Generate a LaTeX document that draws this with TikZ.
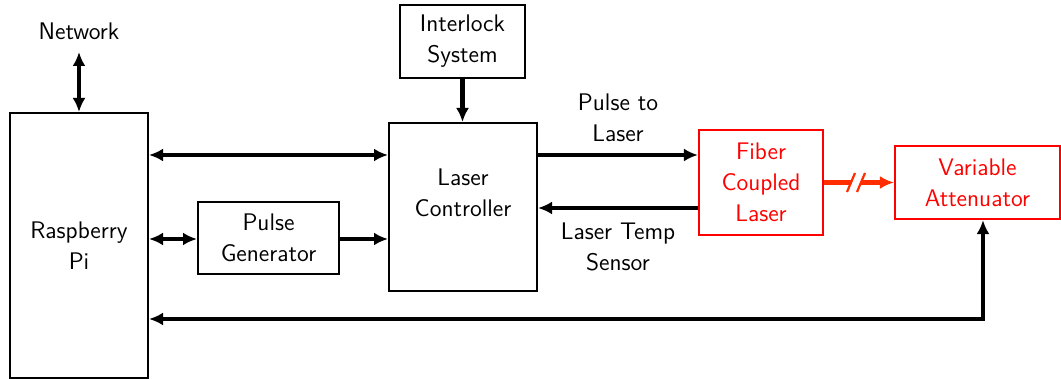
\documentclass[tikz,border=0pt]{standalone}
\usetikzlibrary{arrows.meta,calc}
\definecolor{redline}{RGB}{255,45,0}
\begin{document}
\begin{tikzpicture}[x=0.5pt,y=-0.5pt,
  font=\sffamily\fontsize{12}{15.5}\selectfont,
  box/.style={draw=black,line width=1pt,align=center,inner sep=0pt},
  rbox/.style={draw=red,line width=1.1pt,text=red,align=center,inner sep=0pt},
  lbl/.style={align=center,inner sep=0pt},
  arr/.style={line width=2.2pt,{Latex[length=7pt,width=6.5pt]}-{Latex[length=7pt,width=6.5pt]}},
  arrr/.style={line width=2.2pt,-{Latex[length=7pt,width=6.5pt]}},
]
\useasboundingbox (0,0) rectangle (1061,379);
\fill[white] (0,0) rectangle (1061,379);

\node[box,minimum width=69pt,minimum height=132.5pt] (pi) at (79,245.5) {Raspberry\\Pi};
\node[box,minimum width=70.5pt,minimum height=36pt] (pg) at (268.5,238) {Pulse\\Generator};
\node[box,minimum width=74pt,minimum height=84pt] (ctrl) at (463,207) {};
\node[lbl] (ctrltxt) at (463,192.5) {Laser\\Controller};
\node[box,minimum width=62.5pt,minimum height=36.5pt] (inter) at (462.5,41.5) {Interlock\\System};
\node[rbox,minimum width=62pt,minimum height=52.5pt] (fiber) at (761,182.5) {Fiber\\Coupled\\Laser};
\node[rbox,minimum width=82.5pt,minimum height=36.5pt] (att) at (977.5,182.5) {Variable\\Attenuator};
\node[lbl] (net) at (79,31) {Network};
\node[lbl] (pl) at (618,117.5) {Pulse to\\Laser};
\node[lbl] (lt) at (618,246.5) {Laser Temp\\Sensor};

% connectors
\coordinate (nettop) at (79,52);
\draw[arr] (nettop) -- (pi.north);
\draw[arr] (pi.east |- 0,155) -- (ctrl.west |- 0,155);
\draw[arr] (pi.east |- 0,239) -- (pg.west |- 0,239);
\draw[arrr] (pg.east |- 0,239) -- (ctrl.west |- 0,239);
\draw[arrr] (inter.south) -- (inter.south |- ctrl.north);
\draw[arrr] (ctrl.east |- 0,155) -- (fiber.west |- 0,155);
\draw[arrr] (fiber.west |- 0,208) -- (ctrl.east |- 0,208);
\draw[arr] ([xshift=2.75pt]att.south) |- (pi.east |- 0,319);

% red fiber link with break mark
\draw[arrr,redline] (fiber.east) -- (att.west);
\fill[white] (848,192) -- (857,192) -- (865,173) -- (856,173) -- cycle;
\draw[redline,line width=1.1pt] (847,192) -- (855,173);
\draw[redline,line width=1.1pt] (857,192) -- (865,173);
\end{tikzpicture}
\end{document}
